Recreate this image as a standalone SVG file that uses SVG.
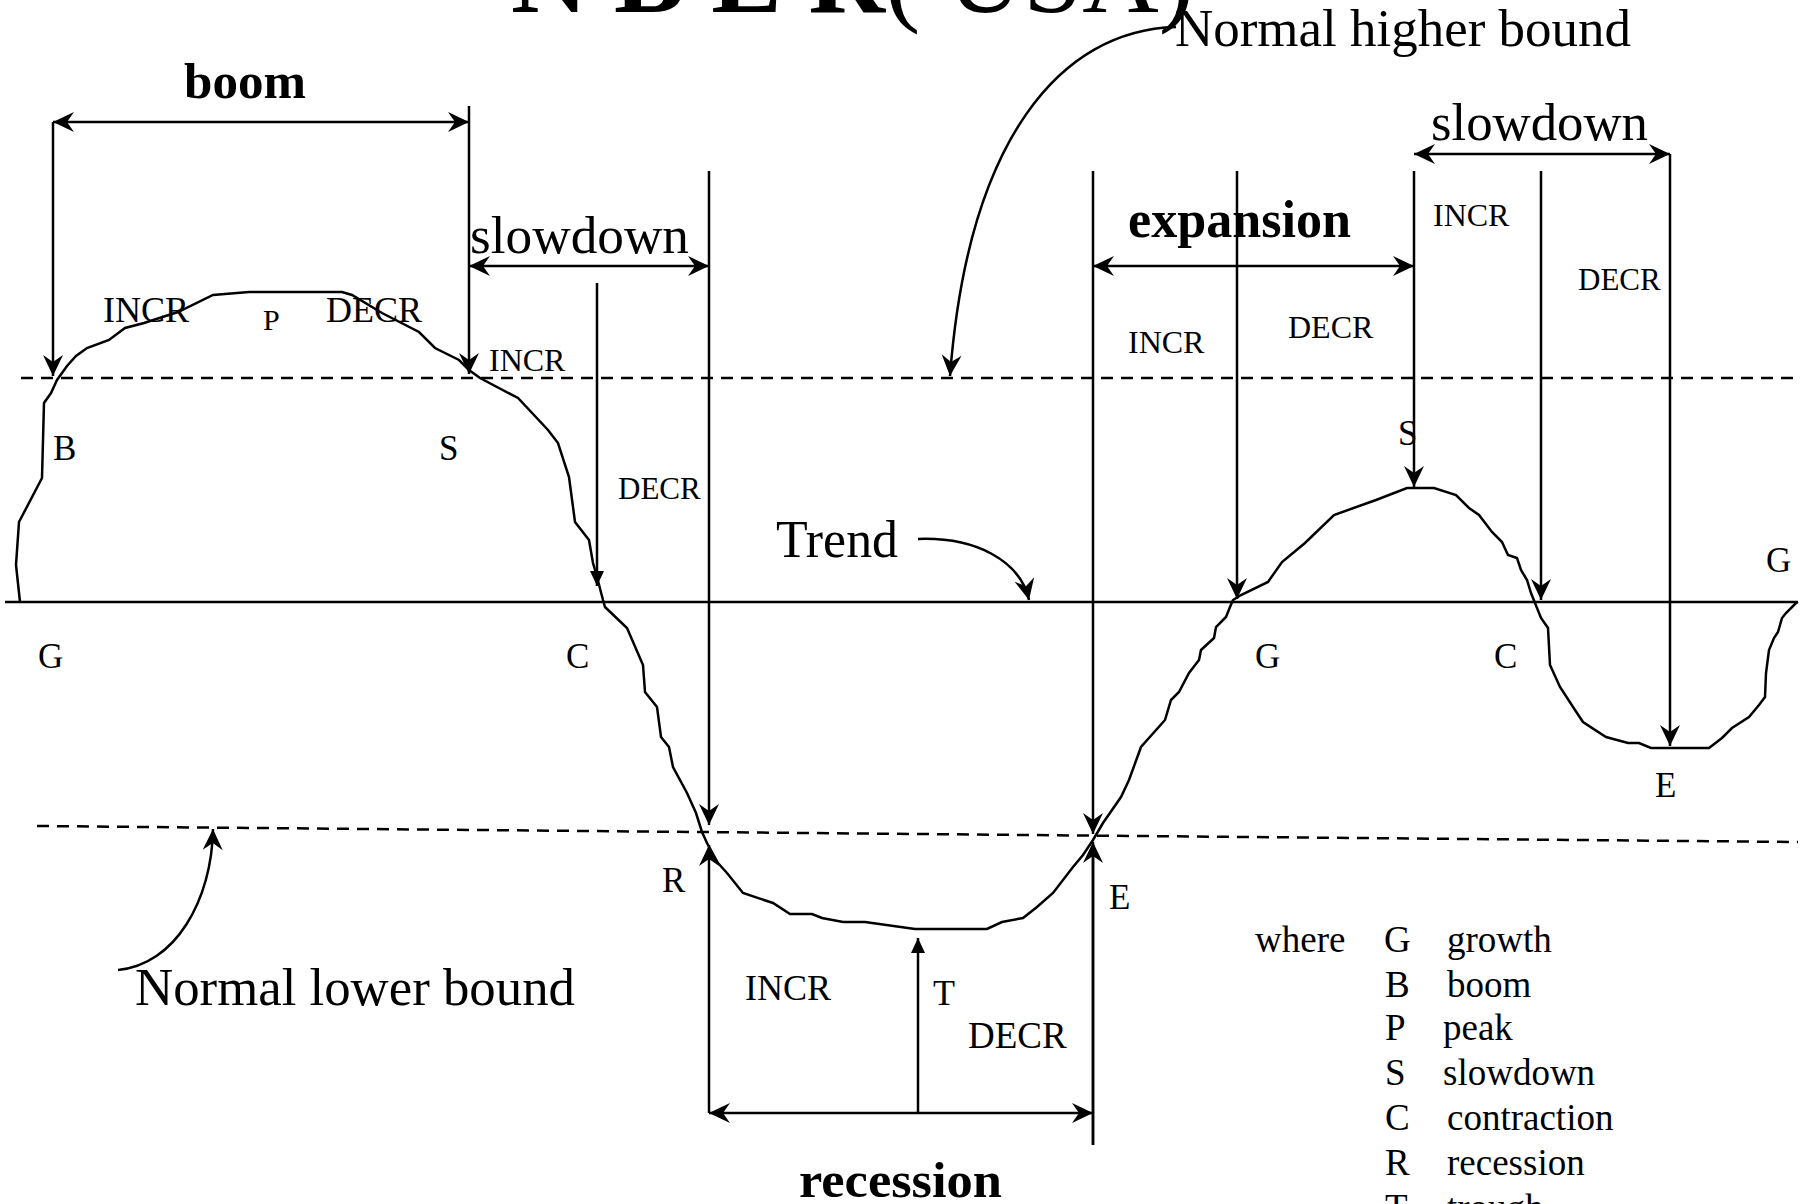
<svg xmlns="http://www.w3.org/2000/svg" width="1810" height="1204" viewBox="0 0 1810 1204">
<style>
text{font-family:"Liberation Serif","Times New Roman",serif;fill:#000}
.ln{stroke:#000;stroke-width:2.5;fill:none}
.dash{stroke:#000;stroke-width:2.5;fill:none;stroke-dasharray:12 8}
.b{font-weight:bold}
.s31{font-size:31px}.s32{font-size:32px}.s35{font-size:35px}.s36{font-size:36px}.s37{font-size:37px}
.big{font-size:53px}
.arr{marker-end:url(#ah)}
.dbl{marker-start:url(#ah);marker-end:url(#ah)}
.tri{marker-end:url(#tri)}
</style>
<defs>
<marker id="ah" viewBox="-22 -12 24 24" markerWidth="24" markerHeight="24" refX="0" refY="0" orient="auto-start-reverse" markerUnits="userSpaceOnUse">
<path d="M0,0 L-21,-10 L-14,0 L-21,10 Z" fill="#000"/>
</marker>
<marker id="tri" viewBox="-17 -9 19 18" markerWidth="19" markerHeight="18" refX="0" refY="0" orient="auto" markerUnits="userSpaceOnUse">
<path d="M0,0 L-15,-7 L-15,7 Z" fill="#000"/>
</marker>
</defs>
<rect width="1810" height="1204" fill="#fff"/>

<g id="title">
<text x="511" y="12" font-size="106"><tspan class="b">N B E R</tspan>( USA)</text>
</g>

<g id="baselines">
<line class="dash" x1="21" y1="378" x2="1798" y2="378"/>
<line class="dash" x1="37" y1="826" x2="1798" y2="842"/>
<line class="ln" x1="5" y1="602" x2="1798" y2="602"/>
</g>

<g id="curve">
<path class="ln" d="M20,602 L16,565 L19,522 L42,478 L44,403 L51,393 L57,380 L67,366 L76,356 L87,348 L109,340 L125,328 L144,323 L178,312 L213,295 L249,292 L342,292 L352,295 L382,313 L419,332 L435,348 L459,360 L469,370 L480,378 L518,398 L548,430 L558,443 L569,477 L575,522 L589,540 L593,563 L597,577 L603,600 L605,607 L627,628 L643,665 L645,692 L657,707 L661,737 L669,747 L673,767 L687,793 L696,813 L702,832 L707,843 L718,863 L727,873 L743,893 L773,903 L790,914 L812,914 L822,918 L843,922 L865,922 L915,929 L987,929 L1002,922 L1023,918 L1037,907 L1053,893 L1073,867 L1083,855 L1093,840 L1103,823 L1121,797 L1129,780 L1141,747 L1165,720 L1171,700 L1179,692 L1189,673 L1199,660 L1201,650 L1214,638 L1216,627 L1226,617 L1230,607 L1233,600 L1241,595 L1268,582 L1282,562 L1305,543 L1334,515 L1376,500 L1407,488 L1434,488 L1456,495 L1469,508 L1479,515 L1492,532 L1502,542 L1508,555 L1517,558 L1521,570 L1527,580 L1531,593 L1535,603 L1541,618 L1548,628 L1550,665 L1560,687 L1575,710 L1583,722 L1606,737 L1628,743 L1639,743 L1651,748 L1709,748 L1722,738 L1732,728 L1749,717 L1759,705 L1765,697 L1766,673 L1769,650 L1774,638 L1778,632 L1782,618 L1786,613 L1796,603 L1798,602"/>
</g>

<g id="connectors">
<!-- boom -->
<line class="ln dbl" x1="53" y1="122" x2="469" y2="122"/>
<line class="ln arr" x1="53" y1="122" x2="53" y2="376"/>
<line class="ln arr" x1="469" y1="106" x2="469" y2="374"/>
<!-- slowdown left -->
<line class="ln dbl" x1="469" y1="266" x2="709" y2="266"/>
<line class="ln arr" x1="709" y1="171" x2="709" y2="825"/>
<line class="ln tri" x1="597" y1="283" x2="597" y2="586"/>
<!-- recession -->
<line class="ln arr" x1="709" y1="1113" x2="709" y2="845"/>
<line class="ln dbl" x1="709" y1="1113" x2="1093" y2="1113"/>
<line class="ln tri" x1="918" y1="1113" x2="918" y2="938"/>
<line class="ln" x1="1093" y1="1145" x2="1093" y2="845"/>
<line class="ln arr" x1="1093" y1="1145" x2="1093" y2="842"/>
<line class="ln arr" x1="1093" y1="171" x2="1093" y2="834"/>
<!-- expansion -->
<line class="ln dbl" x1="1093" y1="266" x2="1414" y2="266"/>
<line class="ln arr" x1="1237" y1="171" x2="1237" y2="599"/>
<line class="ln arr" x1="1414" y1="171" x2="1414" y2="487"/>
<!-- slowdown right -->
<line class="ln dbl" x1="1414" y1="154" x2="1670" y2="154"/>
<line class="ln arr" x1="1541" y1="171" x2="1541" y2="600"/>
<line class="ln arr" x1="1670" y1="154" x2="1670" y2="746"/>
<!-- callouts -->
<path class="ln arr" d="M1176,27 C1060,30 968,140 950,376"/>
<path class="ln arr" d="M118,970 C175,965 212,900 213,829"/>
<path class="ln arr" d="M918,539 C975,537 1020,560 1029,600"/>
</g>

<g id="period-labels">
<text class="b" x="184" y="98" font-size="51" textLength="122" lengthAdjust="spacingAndGlyphs">boom</text>
<text class="big" x="470" y="253" textLength="219" lengthAdjust="spacingAndGlyphs">slowdown</text>
<text class="big" x="1431" y="140" textLength="217" lengthAdjust="spacingAndGlyphs">slowdown</text>
<text class="b" x="1128" y="237" font-size="52" textLength="223" lengthAdjust="spacingAndGlyphs">expansion</text>
<text class="b" x="799" y="1197" font-size="51" textLength="203" lengthAdjust="spacingAndGlyphs">recession</text>
<text x="776" y="557" font-size="52" textLength="122" lengthAdjust="spacingAndGlyphs">Trend</text>
<text class="big" x="1175" y="46" textLength="456" lengthAdjust="spacingAndGlyphs">Normal higher bound</text>
<text class="big" x="135" y="1005" textLength="440" lengthAdjust="spacingAndGlyphs">Normal lower bound</text>
</g>

<g id="phase-labels">
<text class="s36" x="103" y="322">INCR</text>
<text x="263" y="330" font-size="30">P</text>
<text class="s36" x="326" y="322">DECR</text>
<text class="s32" x="489" y="371">INCR</text>
<text class="s35" x="53" y="460">B</text>
<text class="s35" x="439" y="460">S</text>
<text class="s31" x="618" y="499">DECR</text>
<text class="s35" x="38" y="668">G</text>
<text class="s35" x="566" y="668">C</text>
<text class="s35" x="662" y="892">R</text>
<text class="s36" x="745" y="1000">INCR</text>
<text class="s36" x="933" y="1005">T</text>
<text class="s37" x="968" y="1048">DECR</text>
<text class="s35" x="1109" y="909">E</text>
<text class="s32" x="1128" y="353">INCR</text>
<text class="s32" x="1288" y="338">DECR</text>
<text class="s32" x="1433" y="226">INCR</text>
<text class="s31" x="1578" y="290">DECR</text>
<text class="s35" x="1398" y="445">S</text>
<text class="s35" x="1255" y="668">G</text>
<text class="s35" x="1494" y="668">C</text>
<text class="s35" x="1766" y="572">G</text>
<text class="s35" x="1655" y="797">E</text>
</g>

<g id="legend" class="s37">
<text class="s37" x="1255" y="952">where</text>
<text class="s37" x="1384" y="952">G</text><text class="s37" x="1447" y="952">growth</text>
<text class="s37" x="1385" y="997">B</text><text class="s37" x="1447" y="997">boom</text>
<text class="s37" x="1385" y="1040">P</text><text class="s37" x="1443" y="1040">peak</text>
<text class="s37" x="1385" y="1085">S</text><text class="s37" x="1443" y="1085">slowdown</text>
<text class="s37" x="1385" y="1130">C</text><text class="s37" x="1447" y="1130">contraction</text>
<text class="s37" x="1385" y="1175">R</text><text class="s37" x="1447" y="1175">recession</text>
<text class="s37" x="1385" y="1220">T</text><text class="s37" x="1447" y="1220">trough</text>
</g>
</svg>
